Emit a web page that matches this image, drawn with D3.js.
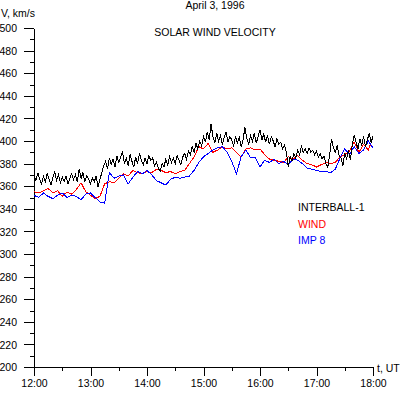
<!DOCTYPE html>
<html>
<head>
<meta charset="utf-8">
<script src="https://cdn.jsdelivr.net/npm/d3@7"></script>
<style>
  body { margin: 0; background: #fff; overflow: hidden; }
  svg { display: block; }
  text { font-family: 'Liberation Sans', Arial, sans-serif; font-size: 10.5px; fill: #000; }
  .axis path, .axis line { stroke: #000; shape-rendering: crispEdges; }
  .series { fill: none; stroke-width: 1; shape-rendering: crispEdges; }
</style>
</head>
<body>
<script>
// time in minutes after 12:00 UT
const interballMinutes = d3.range(0, 361, 2)
const interball = [
  370, 365, 372, 366, 362, 369, 364, 371, 366, 361, 368, 373, 365, 370, 363,
  368, 364, 369, 362, 367, 371, 366, 370, 364, 375, 367, 372, 364, 369, 366,
  362, 367, 364, 369, 359, 366, 372, 378, 382, 375, 385, 379, 384, 377, 387,
  381, 386, 390, 380, 385, 378, 388, 382, 377, 386, 380, 389, 383, 379, 385,
  380, 387, 383, 385, 378, 381, 376, 373, 380, 377, 384, 379, 386, 381, 385,
  380, 387, 383, 379, 386, 389, 384, 391, 388, 395, 390, 398, 393, 400, 396,
  404, 399, 408, 401, 415, 404, 398, 407, 400, 405, 397, 403, 408, 399, 404,
  401, 396, 404, 398, 403, 395, 401, 412, 402, 397, 405, 400, 407, 398, 404,
  410, 401, 406, 399, 405, 397, 404, 400, 395, 402, 397, 399, 393, 396, 390,
  377, 386, 382, 389, 385, 392, 388, 395, 390, 393, 389, 394, 390, 392, 388,
  391, 386, 389, 384, 387, 380, 377, 388, 402, 394, 390, 396, 387, 385, 378,
  389, 384, 392, 383, 397, 405, 399, 393, 402, 396, 404, 395, 401, 407, 399,
  404
]

const windMinutes = d3.range(0, 361, 5)
const wind = [
  355, 354, 356, 358, 354, 356, 351, 355, 353, 357, 363, 355, 352, 349, 351, 362,
  364, 363, 367, 371, 369, 374, 372, 371, 373, 372, 375, 374, 372, 373, 371, 373,
  374, 380, 386, 395, 393, 398, 390, 392, 395, 393, 394, 390, 386, 393, 394, 392,
  393, 388, 384, 383, 382, 381, 386, 384, 387, 383, 380, 379, 377, 379, 381, 380,
  381, 386, 388, 391, 399, 390, 397, 392, 403
]

const imp8Minutes = d3.range(0, 361, 5)
const imp8 = [
  352, 350, 354, 351, 349, 352, 354, 350, 352, 351, 348, 353, 354, 350, 346, 345,
  372, 367, 369, 370, 362, 368, 373, 371, 374, 370, 365, 363, 361, 366, 368, 367,
  368, 369, 374, 381, 386, 389, 392, 394, 395, 390, 382, 371, 386, 392, 385, 385,
  377, 383, 381, 384, 380, 382, 379, 384, 383, 380, 376, 375, 374, 373, 373, 372,
  375, 385, 393, 388, 395, 389, 392, 400, 394
]

const hourTicks = ['12:00', '13:00', '14:00', '15:00', '16:00', '17:00', '18:00']
const seriesNames = ['INTERBALL-1', 'WIND', 'IMP 8']
const seriesColors = ['#000', '#f00', '#00f']

const outerWidth = 402
const outerHeight = 397
const margin = { left: 34, top: 28, right: 29, bottom: 30 }
const innerWidth = outerWidth - margin.left - margin.right
const innerHeight = outerHeight - margin.top - margin.bottom

const svg = d3.select('body').append('svg')
  .attr('width', outerWidth)
  .attr('height', outerHeight)

const g = svg.append('g')
  .attr('transform', 'translate(' + margin.left + ',' + margin.top + ')')

const xScale = d3.scaleLinear()
  .domain([0, 360])
  .range([0, innerWidth])

const yScale = d3.scaleLinear()
  .domain([200, 500])
  .range([innerHeight, 0])

// x axis: major ticks every hour, minor every half hour
g.append('g')
  .attr('class', 'axis')
  .attr('transform', 'translate(0,' + innerHeight + ')')
  .call(d3.axisBottom(xScale).tickValues(d3.range(30, 360, 60)).tickSize(4).tickSizeOuter(0))
  .selectAll('text').remove()

const xMajor = g.append('g')
  .attr('class', 'axis')
  .attr('transform', 'translate(0,' + innerHeight + ')')
  .call(d3.axisBottom(xScale).tickValues(d3.range(0, 361, 60)).tickSize(9).tickSizeOuter(0)
    .tickFormat((d, i) => hourTicks[i]))
xMajor.selectAll('text').attr('y', 20).attr('dy', 0)

// y axis: major ticks every 20, minor every 10
g.append('g')
  .attr('class', 'axis')
  .call(d3.axisLeft(yScale).tickValues(d3.range(210, 500, 20)).tickSize(4).tickSizeOuter(0))
  .selectAll('text').remove()

const yMajor = g.append('g')
  .attr('class', 'axis')
  .call(d3.axisLeft(yScale).tickValues(d3.range(200, 501, 20)).tickSize(10).tickSizeOuter(0))
yMajor.selectAll('text').attr('x', -17).attr('dy', '0.35em')

svg.selectAll('.axis text')
  .attr('font-family', null)
  .attr('font-size', null)

const line = d3.line()
  .x(d => xScale(d[0]))
  .y(d => yScale(d[1]))

const series = [
  d3.zip(interballMinutes, interball),
  d3.zip(windMinutes, wind),
  d3.zip(imp8Minutes, imp8)
]

g.selectAll('.series')
  .data([1, 2, 0])
  .enter()
  .append('path')
  .attr('class', 'series')
  .attr('stroke', i => seriesColors[i])
  .attr('d', i => line(series[i]))

// legend
g.selectAll('.legend')
  .data(seriesNames)
  .enter()
  .append('text')
  .attr('class', 'legend')
  .attr('x', 264)
  .attr('y', (d, i) => 183 + i * 16.5)
  .style('fill', (d, i) => seriesColors[i])
  .text(d => d)

// titles and axis names
svg.append('text')
  .attr('x', 215)
  .attr('y', 9)
  .attr('text-anchor', 'middle')
  .text('April 3, 1996')

svg.append('text')
  .attr('x', 215)
  .attr('y', 36)
  .attr('text-anchor', 'middle')
  .text('SOLAR WIND VELOCITY')

svg.append('text')
  .attr('x', 1)
  .attr('y', 17)
  .text('V, km/s')

svg.append('text')
  .attr('x', 377)
  .attr('y', 372)
  .text('t, UT')
</script>
</body>
</html>
